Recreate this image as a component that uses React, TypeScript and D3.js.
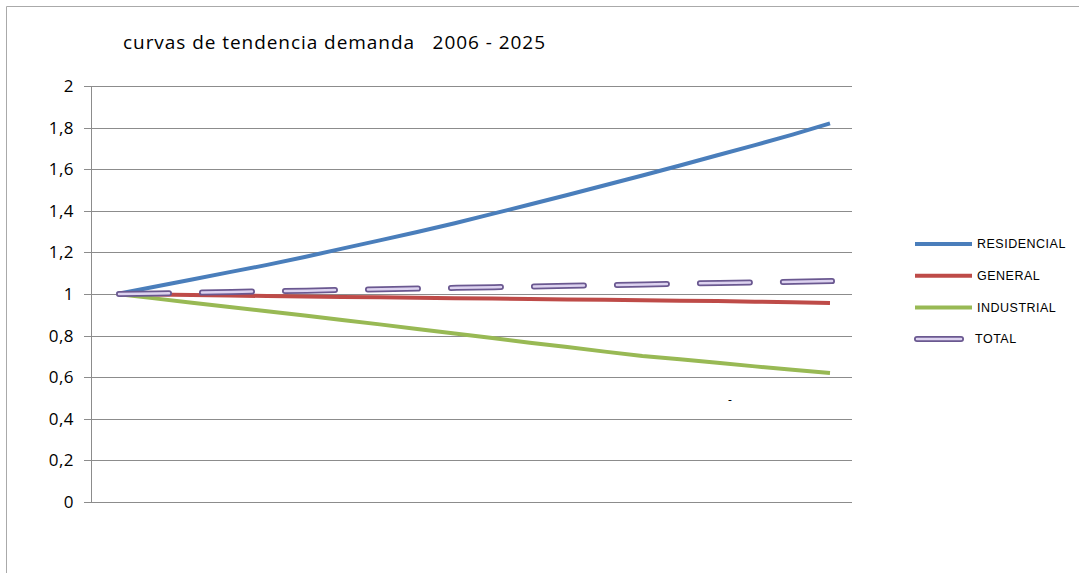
import React from "react";
import * as d3 from "d3";

const years = d3.range(2006, 2026).map(String);
const residencial = [1.0, 1.035, 1.07, 1.105, 1.14, 1.178, 1.218, 1.258, 1.298, 1.34, 1.385, 1.43, 1.476, 1.523, 1.57, 1.618, 1.667, 1.716, 1.766, 1.82];
const general = [1.0, 0.998, 0.995, 0.993, 0.99, 0.988, 0.986, 0.984, 0.982, 0.98, 0.978, 0.976, 0.974, 0.972, 0.97, 0.968, 0.966, 0.963, 0.96, 0.957];
const industrial = [1.0, 0.979, 0.958, 0.938, 0.917, 0.897, 0.875, 0.854, 0.832, 0.81, 0.788, 0.766, 0.745, 0.723, 0.702, 0.686, 0.67, 0.652, 0.636, 0.62];
const total = [1.0, 1.003, 1.006, 1.01, 1.013, 1.016, 1.02, 1.023, 1.026, 1.03, 1.033, 1.036, 1.04, 1.043, 1.046, 1.05, 1.053, 1.056, 1.059, 1.062];
const yTicks = [0, 0.2, 0.4, 0.6, 0.8, 1, 1.2, 1.4, 1.6, 1.8, 2];
const seriesNames = ["RESIDENCIAL", "GENERAL", "INDUSTRIAL", "TOTAL"];
const colors = ["#4a7ebb", "#be4b48", "#98b954", "#7d60a0"];

export default function App() {
  const x = d3.scalePoint<string>().domain(years).range([117, 830]);
  const y = d3.scaleLinear().domain([0, 2]).range([502, 86]);
  const line = d3
    .line<number>()
    .x((_, i) => x(years[i]) as number)
    .y((d) => y(d));
  const series = [residencial, general, industrial, total];
  const fmt = (v: number) => String(+v.toFixed(1)).replace(".", ",");
  const font = "'Open Sans', 'Liberation Sans', sans-serif";

  return (
    <svg
      width={1079}
      height={573}
      style={{ position: "absolute", left: 0, top: 0, background: "#fff" }}
    >
      <rect x={0} y={0} width={1079} height={573} fill="#fff" />
      <line x1={6.5} y1={6.5} x2={6.5} y2={573} stroke="#aaa" strokeWidth={1} />
      <line x1={6.5} y1={6.5} x2={1079} y2={6.5} stroke="#aaa" strokeWidth={1} />
      <text x={123} y={49} fontFamily={font} fontSize={19} fill="#000" textLength={422} lengthAdjust="spacing">
        curvas de tendencia demanda{"\u00a0\u00a0\u00a0"}2006 - 2025
      </text>
      {yTicks.map((t) => (
        <g key={t}>
          <line x1={84} x2={852} y1={Math.round(y(t)) + 0.5} y2={Math.round(y(t)) + 0.5} stroke="#8c8c8c" strokeWidth={1} />
          <text x={74} y={y(t)} dy="0.35em" textAnchor="end" fontFamily={font} fontSize={17} fill="#000" letterSpacing={0.5}>
            {fmt(t)}
          </text>
        </g>
      ))}
      <line x1={91.5} x2={91.5} y1={86} y2={502} stroke="#8c8c8c" strokeWidth={1} />
      {series.slice(0, 3).map((s, i) => (
        <path key={i} d={line(s) as string} fill="none" stroke={colors[i]} strokeWidth={4} strokeLinejoin="round" />
      ))}
      <path d={line(total) as string} fill="none" stroke="#6a5890" strokeWidth={6} strokeDasharray="50 33" strokeLinecap="round" transform="translate(2,0)" />
      <path d={line(total) as string} fill="none" stroke="#ddd3f0" strokeWidth={2.5} strokeDasharray="50 33" strokeLinecap="round" transform="translate(2,0)" />
      <text x={730} y={404} fontFamily={font} fontSize={12} fill="#000" textAnchor="middle">-</text>
      {seriesNames.map((n, i) => {
        const ly = 244 + i * 31.7;
        return (
          <g key={n}>
            {i < 3 ? (
              <line x1={915} x2={972} y1={ly} y2={ly} stroke={colors[i]} strokeWidth={4} />
            ) : (
              <>
                <line x1={917} x2={961} y1={ly} y2={ly} stroke="#6a5890" strokeWidth={6} strokeLinecap="round" />
                <line x1={917} x2={961} y1={ly} y2={ly} stroke="#ddd3f0" strokeWidth={2.5} strokeLinecap="round" />
              </>
            )}
            <text x={i < 3 ? 977 : 975} y={ly} dy="0.35em" fontFamily="'Liberation Sans', Arial, sans-serif" fontSize={12.5} fill="#000" letterSpacing={0.5}>
              {n}
            </text>
          </g>
        );
      })}
    </svg>
  );
}
